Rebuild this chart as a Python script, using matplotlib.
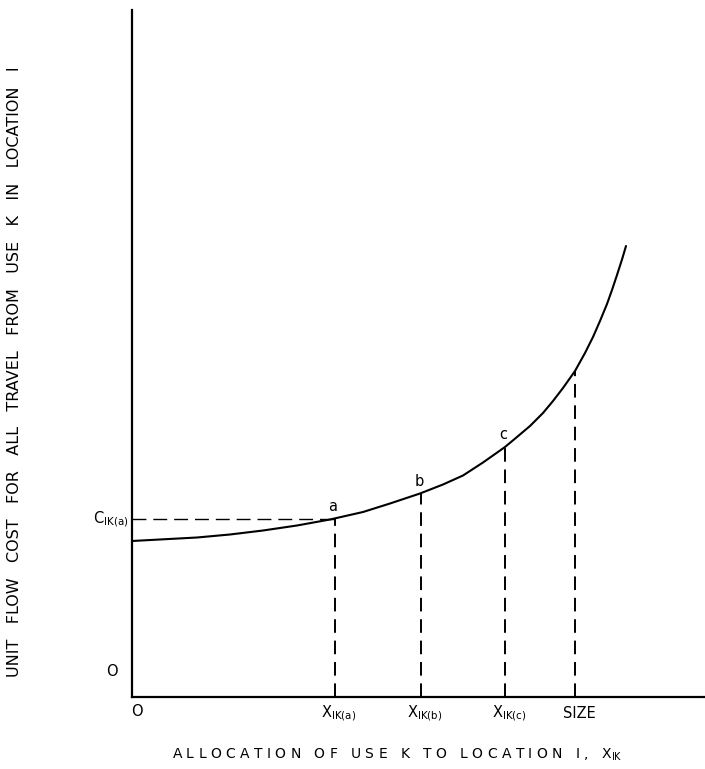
import matplotlib.pyplot as plt

# curve (axis units, origin at the corner)
curve_x = [0, 65, 98, 131, 165, 198, 231, 258, 288, 311, 331, 351, 373, 385, 398,
           411, 421, 431, 443, 453, 461, 468, 475, 480, 485, 490, 494]
curve_y = [156, 159.5, 162.5, 166.5, 171.5, 177.5, 185, 193.5, 203.5, 212.5, 221.5, 234.5, 250, 260, 271,
           284, 296, 309, 326, 344, 360, 376, 393, 407, 422, 437.5, 451]

# marked points on the curve
pt_names = ['a', 'b', 'c']
pt_x = [203, 289, 373]
pt_y = [178, 203.5, 250]
size_x = 443
size_y = 326

tick_labels = [r'X$_{\mathrm{IK(a)}}$', r'X$_{\mathrm{IK(b)}}$', r'X$_{\mathrm{IK(c)}}$', 'SIZE']

W, H = 705, 769
fig = plt.figure(figsize=(W / 100, H / 100), dpi=100)
ax = fig.add_axes([132 / W, 72 / H, 573 / W, 687 / H])
ax.set_xlim(0, 573)
ax.set_ylim(0, 687)
for s in ['top', 'right']:
    ax.spines[s].set_visible(False)
for s in ['left', 'bottom']:
    ax.spines[s].set_linewidth(1.6)
ax.set_xticks([])
ax.set_yticks([])

ax.plot(curve_x, curve_y, color='black', lw=1.5, solid_capstyle='round', solid_joinstyle='round')

# horizontal guide to C_IK(a)
ax.plot([0, pt_x[0]], [pt_y[0], pt_y[0]], color='black', lw=1.0, dashes=(10, 5))

# vertical guides
for xv, yv in zip(pt_x + [size_x], pt_y + [size_y]):
    ax.plot([xv, xv], [0, yv], color='black', lw=1.4, dashes=(7, 4))

for n, xv, yv in zip(pt_names, pt_x, pt_y):
    ax.text(xv - 2, yv + 5, n, ha='center', va='bottom', fontsize=10.5)

# axis annotations
ax.text(-20, 26, 'O', ha='center', va='center', fontsize=10.5, clip_on=False)
ax.text(5, -15, 'O', ha='center', va='center', fontsize=10.5, clip_on=False)
ax.text(-4, pt_y[0], r'C$_{\mathrm{IK(a)}}$', ha='right', va='center', fontsize=10.5, clip_on=False)
for lab, xv in zip(tick_labels, pt_x + [size_x]):
    ax.text(xv + 4, -16, lab, ha='center', va='center', fontsize=10.5, clip_on=False)

fig.text(397 / W, 1 - 755 / H,
         r'A L L O C A T I O N   O F   U S E   K   T O   L O C A T I O N   I ,   X$_{\mathrm{IK}}$',
         ha='center', va='center', fontsize=10)
fig.text(15 / W, 1 - 372 / H,
         'UNIT   FLOW   COST   FOR   ALL   TRAVEL   FROM   USE   K   IN   LOCATION   I',
         ha='center', va='center', rotation=90, fontsize=11.5)

fig.savefig('out.png', dpi=100)
